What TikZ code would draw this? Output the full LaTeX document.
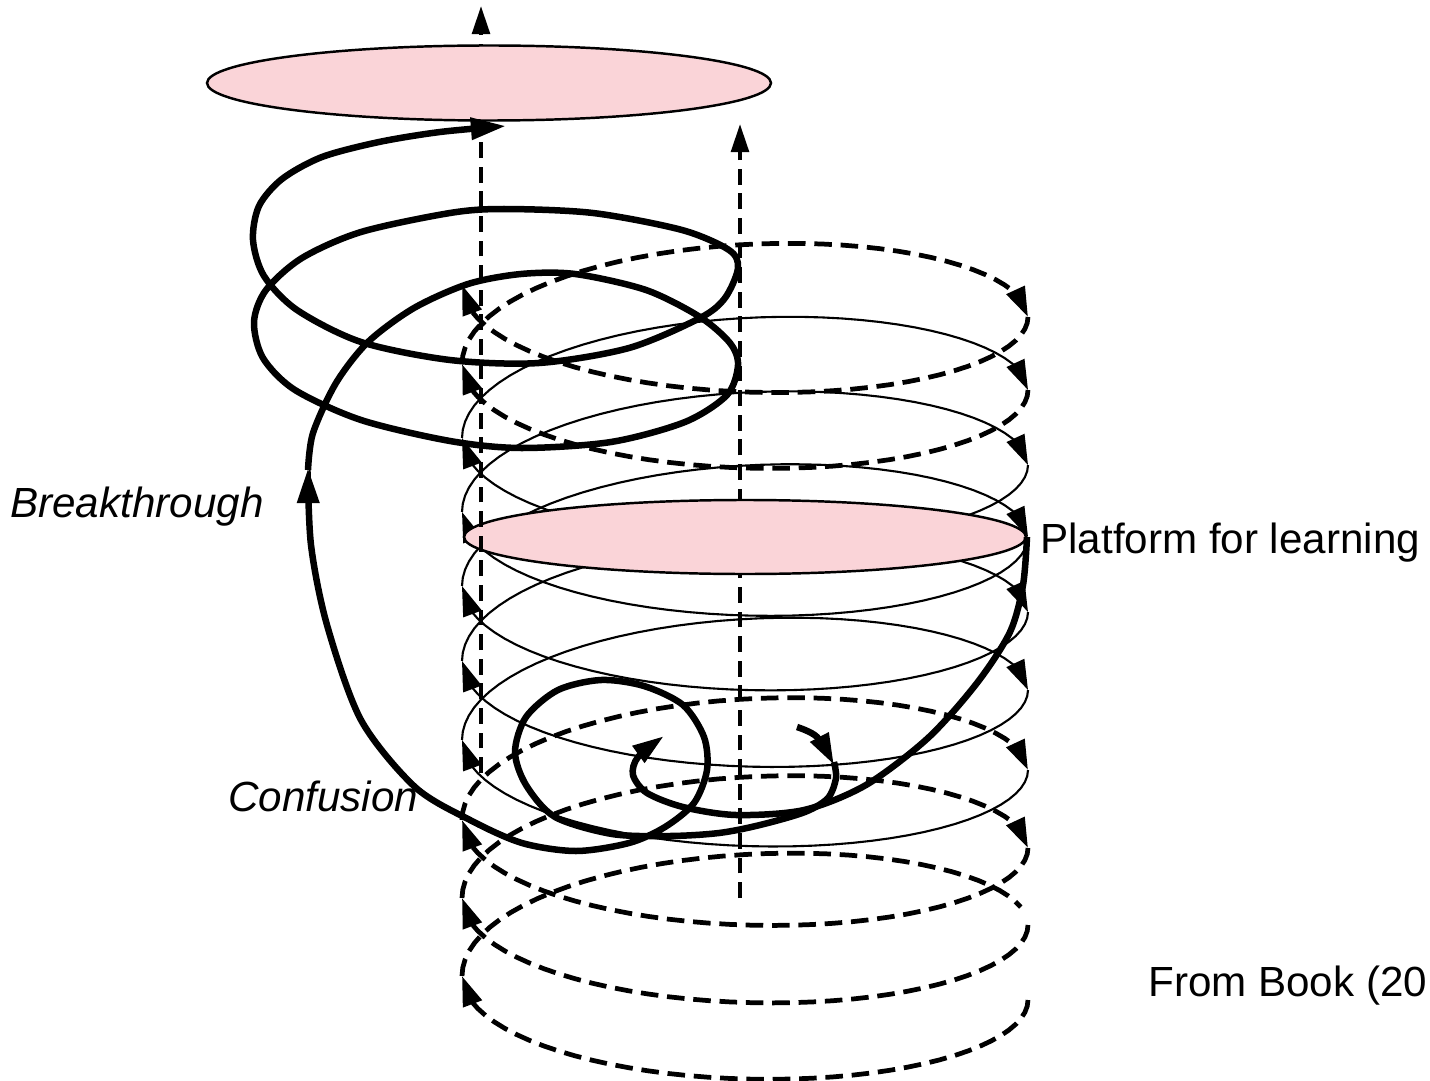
\documentclass[tikz,border=0pt]{standalone}
\usepackage{fontspec}
\setmainfont{Liberation Sans}
\usetikzlibrary{arrows.meta}
\definecolor{padpink}{RGB}{250,212,216}

\begin{document}
\begin{tikzpicture}[x=0.02cm,y=-0.02cm]
  \tikzset{coil/.style = {line width=1.2pt}}
  \tikzset{dcoil/.style = {line width=2.7pt,dash pattern=on 10pt off 5pt}}
  \tikzset{coiltip/.style = {-{Triangle[length=17pt,width=11pt]}}}
  \tikzset{shaft/.style = {line width=2.3pt,dash pattern=on 9pt off 5pt,-{Triangle[length=16pt,width=10pt]}}}
  \tikzset{trail/.style = {line width=3.7pt}}
  \tikzset{midtip/.style = {-{Triangle[length=18pt,width=11pt]}}}
  \tikzset{bigtip/.style = {-{Triangle[length=20pt,width=12pt]}}}
  \tikzset{disc/.style = {draw,line width=1.4pt,fill=padpink}}
  \tikzset{words/.style = {inner sep=0pt,anchor=base west,font=\fontsize{24}{29}\selectfont}}

  \useasboundingbox (0,0) rectangle (1430,1081);

  \coordinate (goal) at (489,83);
  \coordinate (base) at (745,537);
  \coordinate (axisL) at (481,773);
  \coordinate (axisM) at (740,898);

  \draw[shaft] (axisM) -- (740,124);

  \foreach \ya/\yb in {364/317, 820/770, 898/848}
    \draw[dcoil,coiltip] plot[domain=0:165,samples=40,variable=\t] ({745-283*cos(\t)},{\ya+(\yb-\ya)*\t/180-96*sin(\t)}) -- (1028,\yb);
  \foreach \ya/\yb in {438/390, 512/465, 586/537, 661/612, 740/690}
    \draw[coil,coiltip] plot[domain=0:165,samples=40,variable=\t] ({745-283*cos(\t)},{\ya+(\yb-\ya)*\t/180-96*sin(\t)}) -- (1028,\yb);
  \draw[dcoil] plot[domain=0:167,samples=40,variable=\t] ({745-283*cos(\t)},{976+(925-976)*\t/180-96*sin(\t)});

  \foreach \ya/\yb in {317/285, 390/364, 848/820, 925/898, 1000/976}
    \draw[dcoil,coiltip] plot[domain=0:165,samples=40,variable=\t] ({745+283*cos(\t)},{\ya+(\yb-\ya)*\t/180+91*sin(\t)}) -- (462,\yb);
  \foreach \ya/\yb in {465/438, 537/512, 612/586, 690/661, 770/740}
    \draw[coil,coiltip] plot[domain=0:165,samples=40,variable=\t] ({745+283*cos(\t)},{\ya+(\yb-\ya)*\t/180+91*sin(\t)}) -- (462,\yb);

  \draw[disc] (base) ellipse [x radius=281, y radius=37];
  \draw[shaft] (axisL) -- (481,6);
  \draw[disc] (goal) ellipse [x radius=282, y radius=37.5];

  \draw[trail,midtip] plot[smooth] coordinates {(1027,537) (1023,585) (1010,632) (977,683) (928,738) (866,785) (804,810) (736,815) (683,807) (647,793) (633,775) (638,757) (664,736)};
  \draw[trail,midtip] plot[smooth] coordinates {(797,727) (817,737) (834,765)};
  \draw[trail,bigtip] plot[smooth] coordinates {(834,762) (836,778) (828,798) (805,812) (760,825) (719,833) (670,836) (612,834) (555,817) (526,785) (515,752) (526,717) (558,690) (601,680) (644,686) (683,705) (704,737) (707,770) (694,803) (665,827) (629,843) (576,851) (522,843) (470,820) (415,787) (361,720) (327,625) (311,545) (308,468)};
  \draw[trail,bigtip] plot[smooth] coordinates {(308,470) (313,433) (336,383) (368,342) (414,308) (468,284) (521,274) (575,274) (646,290) (700,317) (730,343) (738,365) (727,395) (685,422) (611,442) (521,448) (450,441) (361,420) (295,390) (263,358) (254,322) (266,290) (302,258) (361,232) (450,213) (504,209) (593,213) (682,230) (729,250) (738,268) (725,298) (700,318) (629,348) (539,363) (450,360) (361,342) (297,310) (264,276) (253,240) (259,206) (282,179) (322,157) (379,142) (440,132) (506,126)};

  \node[words] (breakthrough) at (10,517) {\itshape Breakthrough};
  \node[words] (confusion) at (228,811) {\itshape Confusion};
  \node[words] (platform) at (1040,553) {Platform for learning};
  \node[words] (source) at (1148,996) {From Book (20};
\end{tikzpicture}
\end{document}
